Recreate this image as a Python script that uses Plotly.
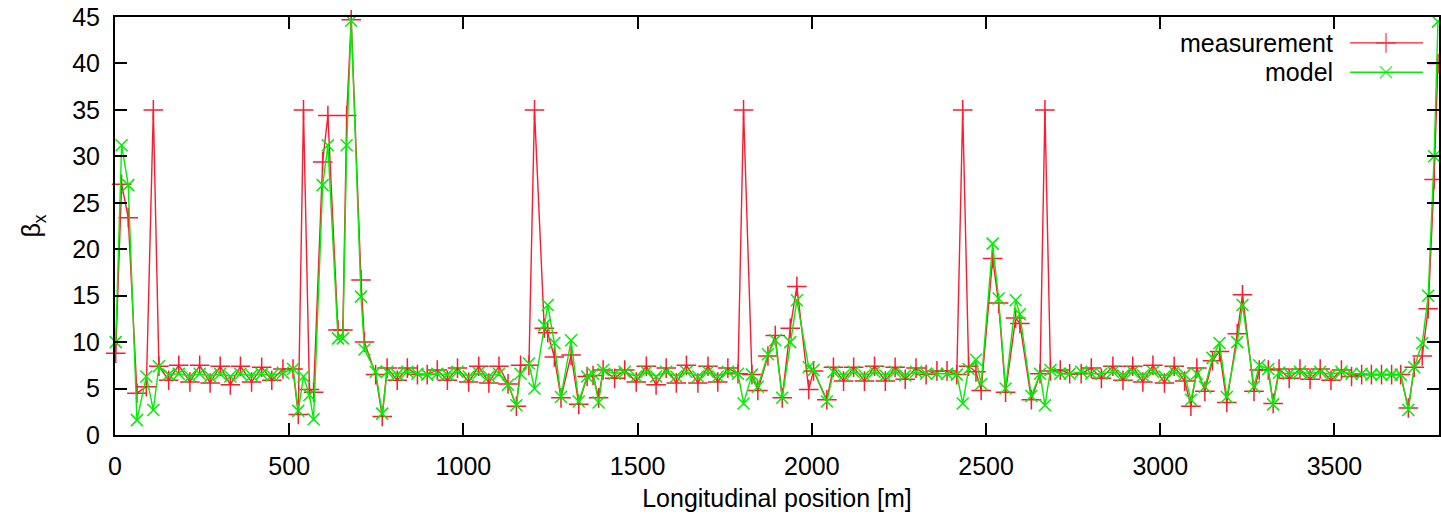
import plotly.graph_objects as go

# Longitudinal positions [m]
position = [2, 19, 38, 63, 90, 110, 126, 154, 183, 215, 243, 273, 302, 331, 360, 392, 421, 450, 482, 511,
            526, 541, 558, 570, 596, 611, 640, 654, 665, 678, 706, 716, 748, 767, 781, 810, 839, 868, 896, 925,
            954, 983, 1015, 1044, 1073, 1102, 1128, 1152, 1164, 1188, 1204, 1232, 1242, 1261, 1280, 1309, 1331, 1355, 1372, 1388,
            1401, 1434, 1463, 1496, 1525, 1553, 1582, 1611, 1640, 1673, 1702, 1730, 1759, 1788, 1804, 1828, 1845, 1874, 1895, 1915,
            1938, 1957, 1991, 2005, 2043, 2062, 2091, 2120, 2151, 2180, 2211, 2239, 2268, 2299, 2328, 2359, 2388, 2416, 2433, 2450,
            2471, 2486, 2519, 2536, 2556, 2585, 2597, 2630, 2655, 2669, 2685, 2713, 2740, 2773, 2802, 2831, 2864, 2893, 2921, 2950,
            2979, 3012, 3040, 3070, 3088, 3105, 3128, 3150, 3170, 3191, 3221, 3236, 3269, 3284, 3310, 3324, 3341, 3370, 3401, 3430,
            3459, 3490, 3520, 3549, 3578, 3606, 3635, 3664, 3690, 3712, 3729, 3752, 3769, 3786, 3797]

measurement = [8.8, 27.0, 23.4, 4.5, 5.2, 35.0, 7.4, 5.9, 7.5, 5.7, 7.5, 5.6, 7.4, 5.4, 7.4, 5.7, 7.3, 5.9, 7.1, 7.1,
               2.2, 35.0, 4.9, 4.6, 29.4, 34.4, 11.3, 11.3, 34.4, 44.7, 16.7, 10.0, 6.5, 2.0, 7.2, 5.9, 7.2, 6.5, 6.5, 7.0,
               5.9, 7.2, 5.7, 7.4, 5.6, 7.4, 5.5, 3.1, 7.5, 7.5, 35.0, 11.5, 11.0, 8.4, 4.0, 8.6, 3.3, 6.3, 6.4, 4.0,
               7.0, 6.1, 7.0, 5.7, 7.4, 5.4, 7.2, 5.6, 7.5, 5.6, 7.4, 5.7, 7.2, 6.6, 35.0, 6.5, 4.8, 8.5, 10.7, 4.0,
               11.5, 16.0, 4.9, 6.9, 3.8, 7.3, 5.8, 7.3, 5.8, 7.4, 5.8, 7.3, 6.0, 7.2, 6.5, 6.9, 6.9, 6.5, 35.0, 7.4,
               6.8, 4.8, 19.0, 14.2, 4.6, 12.6, 12.0, 3.8, 6.6, 35.0, 6.9, 7.0, 6.6, 6.6, 7.2, 6.1, 7.4, 5.9, 7.4, 5.7,
               7.5, 5.6, 7.4, 5.8, 3.1, 7.2, 4.7, 8.0, 9.0, 3.5, 10.9, 15.1, 4.7, 7.0, 7.0, 3.4, 7.1, 6.1, 7.1, 6.0,
               7.1, 5.9, 7.0, 6.3, 6.5, 6.5, 6.5, 6.5, 6.5, 2.9, 7.3, 8.5, 13.6, 27.5, 40.0]

model = [10.0, 31.2, 26.9, 1.6, 6.3, 2.7, 7.4, 6.5, 6.6, 6.3, 6.6, 6.3, 6.6, 6.3, 6.6, 6.4, 6.6, 6.4, 6.7, 7.1,
         2.6, 6.3, 4.3, 1.7, 26.9, 31.2, 10.4, 10.4, 31.2, 44.6, 14.9, 9.2, 6.8, 2.3, 6.8, 6.5, 6.8, 6.6, 6.5, 6.6,
         6.5, 6.8, 6.3, 6.7, 6.3, 6.6, 5.4, 3.2, 6.6, 7.7, 5.0, 11.8, 14.0, 9.9, 4.1, 10.2, 3.6, 6.3, 6.6, 3.5,
         7.0, 6.6, 6.8, 6.3, 6.8, 6.3, 6.8, 6.3, 6.8, 6.3, 6.8, 6.3, 6.8, 6.6, 3.4, 6.5, 5.2, 8.7, 10.2, 4.0,
         10.0, 14.5, 7.3, 7.0, 3.6, 6.8, 6.4, 6.8, 6.4, 6.8, 6.4, 6.8, 6.4, 6.8, 6.6, 6.6, 6.6, 6.5, 3.4, 7.1,
         8.1, 5.5, 20.6, 14.7, 5.0, 14.5, 13.0, 4.2, 6.6, 3.2, 7.0, 6.6, 6.6, 6.8, 6.6, 6.6, 6.8, 6.4, 6.8, 6.4,
         6.8, 6.3, 6.8, 6.5, 3.8, 6.6, 5.2, 8.3, 9.9, 4.1, 10.0, 14.0, 5.2, 7.5, 7.1, 3.3, 6.7, 6.6, 6.8, 6.6,
         6.8, 6.5, 6.8, 6.6, 6.6, 6.5, 6.5, 6.5, 6.5, 2.7, 7.3, 9.9, 15.0, 30.0, 44.5]

x_ticks = [0, 500, 1000, 1500, 2000, 2500, 3000, 3500]
y_ticks = [0, 5, 10, 15, 20, 25, 30, 35, 40, 45]
series_names = ["measurement", "model"]

RED = "#ff1a2e"
GREEN = "#00ee00"
FONT = "Liberation Sans, Arial, sans-serif"
FS = 25

fig = go.Figure()
fig.add_trace(go.Scatter(
    x=position, y=measurement, mode="lines+markers", name=series_names[0],
    line=dict(color=RED, width=1.4),
    marker=dict(symbol="cross-thin", size=14, line=dict(color=RED, width=1.5)),
    showlegend=False, cliponaxis=False))
fig.add_trace(go.Scatter(
    x=position, y=model, mode="lines+markers", name=series_names[1],
    line=dict(color=GREEN, width=1.4),
    marker=dict(symbol="x-thin", size=12, line=dict(color=GREEN, width=1.5)),
    showlegend=False, cliponaxis=False))

# gnuplot-style key: text on the left, sample on the right
key_y = [0.938, 0.868]
key_colors = [RED, GREEN]
key_symbols = ["cross-thin", "x-thin"]
key_sizes = [14, 12]
for i in range(2):
    fig.add_trace(go.Scatter(
        x=[0.9329, 0.960, 0.9879], y=[key_y[i]] * 3, xaxis="x2", yaxis="y2",
        mode="lines+markers", line=dict(color=key_colors[i], width=1.4),
        marker=dict(symbol=key_symbols[i], size=[0, key_sizes[i], 0],
                    line=dict(color=key_colors[i], width=1.5)),
        showlegend=False, hoverinfo="skip"))
    fig.add_annotation(x=0.9216, y=key_y[i], xref="paper", yref="paper",
                       text=series_names[i], showarrow=False, xanchor="right", yanchor="middle",
                       font=dict(family=FONT, size=FS, color="black"))

axis_common = dict(showgrid=False, zeroline=False, showline=True, linecolor="black", linewidth=2,
                   mirror="ticks", ticks="inside", ticklen=12, tickwidth=2, tickcolor="black",
                   tickfont=dict(family=FONT, size=FS, color="black"))

fig.update_layout(
    width=1441, height=515,
    margin=dict(l=115, r=0, t=17, b=80),
    paper_bgcolor="white", plot_bgcolor="white",
    showlegend=False,
    xaxis=dict(range=[0, 3800], tickvals=x_ticks, ticktext=[str(v) for v in x_ticks],
               title=dict(text="Longitudinal position [m]", font=dict(family=FONT, size=FS, color="black"),
                          standoff=10),
               ticklabelstandoff=8, **axis_common),
    yaxis=dict(range=[0, 45], tickvals=y_ticks, ticktext=[str(v) for v in y_ticks],
               title=dict(text="β<sub>x</sub>", font=dict(family=FONT, size=FS, color="black"), standoff=24),
               ticklabelstandoff=8, **axis_common),
    xaxis2=dict(overlaying="x", range=[0, 1], visible=False, fixedrange=True),
    yaxis2=dict(overlaying="y", range=[0, 1], visible=False, fixedrange=True),
)

fig.write_html("out.html")
